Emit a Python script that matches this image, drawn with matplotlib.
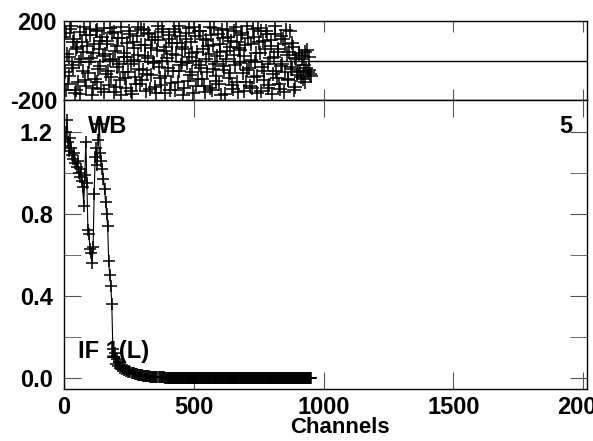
import numpy as np
import matplotlib
matplotlib.use("Agg")
import matplotlib.pyplot as plt
from matplotlib.ticker import MultipleLocator, FormatStrFormatter

plt.rcParams['font.family'] = ['Liberation Sans', 'DejaVu Sans']
plt.rcParams['font.weight'] = 'bold'
plt.rcParams['axes.unicode_minus'] = False

# phase (deg), two interleaved sets of points out to channel ~950
phase_a = [
    120, -150, 35, -80, 160, -20, 95, -165, 60, -110,
    145, 10, -55, 170, -130, 75, -5, 130, -175, 40,
    -95, 155, -40, 100, -145, 25, 165, -70, 85, -125,
    5, 140, -160, 50, -30, 115, -100, 170, -60, 20,
    -140, 90, 150, -15, -170, 65, -85, 125, 30, -120,
    160, -45, 80, -155, 15, 135, -75, 105, -10, -135,
    55, 175, -90, 0, 145, -165, 70, -35, 110, -115,
    35, 160, -150, 90, -50, 125, -5, -175, 60, 140,
    -105, 20, 95, -60, 170, -130, 45, -20, 150, -95,
    110, -160, 10, 75, -140, 130, -40, 165, -80, 25,
    -120, 85, 155, -25, -170, 50, 120, -65, 100, -145,
    30, 170, -110, 65, -10, 140, -155, 80, -45, 115,
    -130, 5, 160, -85, 40, -165, 95, 150, -30, -100,
    60, 135, -140, 15, 105, -70, 175, -55, 45, -120,
    125, -15, -160, 85, 30, -95, 150, -40, 70, -135,
    10, -60, 40, -85, 25, -20, -110, 55, -45, -70,
]
phase_b = [
    -60, 140, -120, 20, 175, -35, 110, -150, 70, -5,
    -170, 95, 45, -100, 130, -65, 160, 15, -140, 85,
    150, -110, 60, -25, 120, -160, 35, 100, -50, 165,
    -85, 10, 145, -135, 75, -15, -175, 115, 40, -90,
    20, -60, 135, -155, 95, 5, -120, 170, -40, 80,
    -100, 155, 25, -70, 140, -145, 65, -5, 120, -165,
    105, -30, -125, 160, 50, -80, 15, 130, -150, 90,
    -55, 145, 30, -110, 175, -20, 70, -140, 110, -10,
    165, -75, 40, -165, 125, 0, -95, 150, -35, 60,
    -130, 105, -60, 35, 170, -150, 80, -15, -105, 135,
    45, -175, 115, -45, 10, 160, -90, 70, -125, 150,
    -20, 95, -160, 55, 130, -65, 25, -110, 175, -35,
    85, -140, 120, -5, -80, 165, 40, -155, 100, -50,
    150, -15, -125, 75, -170, 20, 135, -90, 60, -145,
    -25, 110, -60, 155, -100, 45, -30, 90, -150, 15,
    -75, 30, -50, 10, -95, 45, -35, -60, 20, -80,
]
phase_chan_a = np.linspace(0, 948, len(phase_a))
phase_chan_b = np.linspace(3, 951, len(phase_b))

# amplitude, channels 0..400 every 4
amp = [1.16, 1.13, 1.20, 1.26, 1.15, 1.11, 1.17, 1.12, 1.09, 1.07,
       1.10, 1.05, 1.03, 1.06, 1.00, 0.98, 1.02, 0.96, 0.93, 0.84,
       0.99, 1.15, 0.95, 0.72, 0.70, 0.63, 0.61, 0.56, 0.64, 0.90,
       1.08, 1.12, 1.04, 1.16, 1.24, 1.10, 1.06, 1.02, 0.97, 0.92,
       0.86, 0.80, 0.74, 0.57, 0.50, 0.45, 0.36, 0.14, 0.10, 0.12,
       0.07, 0.09, 0.06, 0.08, 0.05, 0.06, 0.045, 0.05, 0.04, 0.042,
       0.035, 0.038, 0.03, 0.032, 0.028, 0.026, 0.024, 0.022, 0.02, 0.019,
       0.018, 0.016, 0.015, 0.014, 0.013, 0.012, 0.011, 0.010, 0.009, 0.009,
       0.008, 0.007, 0.007, 0.006, 0.006, 0.005, 0.005, 0.004, 0.004, 0.004,
       0.003, 0.003, 0.003, 0.002, 0.002, 0.002, 0.002, 0.001, 0.001, 0.001,
       0.001]
amp_chan = np.arange(0, 4 * len(amp), 4)
# flat part out to channel 950
tail_chan = np.arange(402, 951, 2)
tail_amp = [0.0] * len(tail_chan)

all_chan = np.concatenate([amp_chan, tail_chan])
all_amp = np.concatenate([amp, tail_amp])

fig = plt.figure(figsize=(5.93, 4.41), dpi=100)
ax1 = fig.add_axes([0.108, 0.773, 0.882, 0.179])
ax2 = fig.add_axes([0.108, 0.118, 0.882, 0.655])

ax1.plot(phase_chan_a, phase_a, '+', color='black', ms=10, mew=1.1)
ax1.plot(phase_chan_b, phase_b, '+', color='black', ms=10, mew=1.1)
ax1.axhline(0, color='black', lw=1.0)
ax1.set_ylim(-200, 200)
ax1.set_yticks([-200, 200])
ax1.set_xlim(0, 2015)
ax1.xaxis.set_major_locator(MultipleLocator(500))
ax1.tick_params(axis='x', direction='in', top=True, bottom=True, length=8,
                color='#555555', labelbottom=False)
ax1.tick_params(axis='y', length=0, labelsize=17, pad=5)

ax2.plot(all_chan, all_amp, '-', color='black', lw=0.8)
ax2.plot(all_chan, all_amp, '+', color='black', ms=9, mew=1.1)
ax2.set_xlim(0, 2015)
ax2.set_ylim(-0.054, 1.356)
ax2.xaxis.set_major_locator(MultipleLocator(500))
ax2.yaxis.set_major_locator(MultipleLocator(0.4))
ax2.yaxis.set_minor_locator(MultipleLocator(0.2))
ax2.yaxis.set_major_formatter(FormatStrFormatter('%.1f'))
ax2.tick_params(axis='both', which='both', direction='in', top=True,
                right=True, length=12, color='#555555', labelsize=17)
ax2.tick_params(axis='y', which='both', pad=8)
ax2.tick_params(axis='x', pad=5)
ax2.set_xlabel('Channels', fontsize=16, fontweight='bold')
ax2.xaxis.set_label_coords(0.528, -0.097)

for ax in (ax1, ax2):
    for s in ax.spines.values():
        s.set_linewidth(1.0)

ax2.text(0.046, 0.907, 'WB', transform=ax2.transAxes, fontsize=17,
         fontweight='bold', ha='left', va='center')
ax2.text(0.971, 0.907, '5', transform=ax2.transAxes, fontsize=17,
         fontweight='bold', ha='right', va='center')
ax2.text(0.027, 0.128, 'IF 1(L)', transform=ax2.transAxes, fontsize=17,
         fontweight='bold', ha='left', va='center')

fig.savefig('out.png', dpi=100)
